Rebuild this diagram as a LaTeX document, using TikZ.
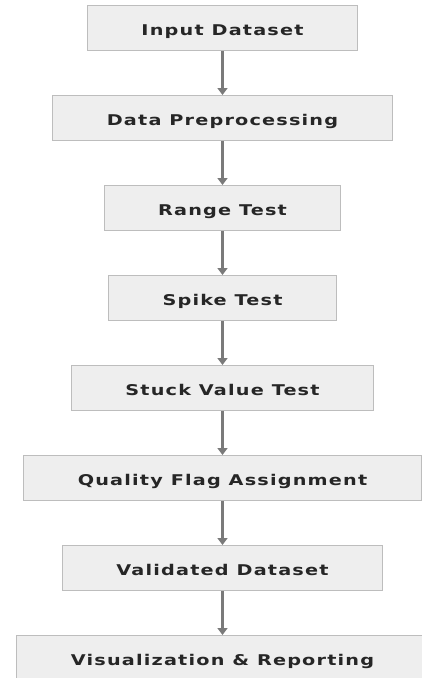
\documentclass[tikz,border=0pt]{standalone}
\usepackage{fontspec}
\usepackage{tikz}
\usetikzlibrary{arrows.meta,positioning,shapes}

\newfontfamily\stepfont{DejaVu Sans}[FakeStretch=1.3,LetterSpace=8]
\definecolor{boxfill}{HTML}{EEEEEE}
\definecolor{boxline}{HTML}{BDBDBD}
\definecolor{flowline}{HTML}{7A7A7A}
\definecolor{steptext}{HTML}{262626}

\begin{document}
\begin{tikzpicture}[x=1pt,y=1pt,node distance=44pt,
            stage/.style={draw=boxline,fill=boxfill,line width=1pt,rectangle,
              minimum height=45pt,inner xsep=54pt,inner ysep=0pt,
              text height=14pt,text depth=0pt,
              font=\stepfont\bfseries\fontsize{14.8}{17}\selectfont,
              text=steptext},
            flow/.style={draw=flowline,-{Triangle[width=10pt,length=7pt]},line width=2.2pt}
          ]
          \useasboundingbox (0,0) rectangle (422,-678);
          \fill[white] (0,0) rectangle (422,-678);
          \clip (0,0) rectangle (422,-678);

          %processing chain
          \node[stage] (input) at (222.5,-28) {Input Dataset};
          \node[below = of input,stage] (prep) {Data Preprocessing};
          \node[below = of prep,stage] (range) {Range Test};
          \node[below = of range,stage] (spike) {Spike Test};
          \node[below = of spike,stage] (stuck) {Stuck Value Test};
          \node[below = of stuck,stage] (flag) {Quality Flag Assignment};
          \node[below = of flag,stage] (valid) {Validated Dataset};
          \node[below = of valid,stage] (report) {Visualization \& Reporting};

          \path
          (input) edge[flow] (prep)
          (prep) edge[flow] (range)
          (range) edge[flow] (spike)
          (spike) edge[flow] (stuck)
          (stuck) edge[flow] (flag)
          (flag) edge[flow] (valid)
          (valid) edge[flow] (report)
          ;

      \end{tikzpicture}
\end{document}
